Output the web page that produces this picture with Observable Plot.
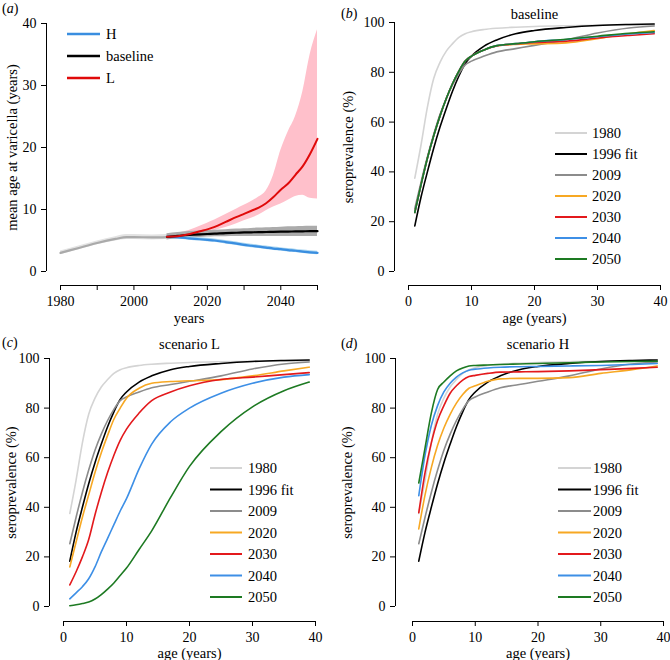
<!DOCTYPE html>
<html><head><meta charset="utf-8">
<script src="https://cdn.jsdelivr.net/npm/d3@7"></script>
<script src="https://cdn.jsdelivr.net/npm/@observablehq/plot@0.6"></script>
<style>
body{margin:0;background:#fff;}
#fig{position:relative;width:670px;height:660px;font-family:"Liberation Serif",serif;}
#fig > div{position:absolute;}
</style></head><body><div id="fig"></div>
<script>
// ---------- Panel (a): mean age at varicella ----------
const histYears = [1980, 1985, 1990, 1995, 1998, 2000, 2005, 2009];
const histMean  = [3.0, 3.8, 4.6, 5.25, 5.55, 5.55, 5.5, 5.55];
const histLo    = [2.7, 3.5, 4.3, 4.9, 5.15, 5.15, 5.1, 5.15];
const histHi    = [3.3, 4.1, 4.9, 5.6, 5.95, 5.95, 5.9, 5.95];

const projYears = [2009, 2012, 2015, 2018, 2020, 2022, 2025, 2028, 2030, 2032, 2034, 2036, 2038, 2040, 2042, 2044, 2046, 2048, 2050];
const baseMean = [5.6, 5.75, 5.9, 6.0, 6.05, 6.1, 6.2, 6.25, 6.3, 6.32, 6.35, 6.37, 6.4, 6.42, 6.44, 6.46, 6.48, 6.5, 6.5];
const baseLo   = [5.1, 5.3, 5.4, 5.5, 5.55, 5.6, 5.62, 5.64, 5.65, 5.65, 5.65, 5.65, 5.65, 5.66, 5.66, 5.66, 5.66, 5.66, 5.66];
const baseHi   = [6.1, 6.3, 6.45, 6.55, 6.6, 6.65, 6.75, 6.85, 6.9, 6.95, 7.0, 7.05, 7.1, 7.15, 7.2, 7.22, 7.25, 7.28, 7.3];
const hMean = [5.6, 5.5, 5.35, 5.2, 5.1, 5.0, 4.75, 4.5, 4.3, 4.15, 4.0, 3.85, 3.7, 3.6, 3.45, 3.35, 3.2, 3.1, 3.0];
const hLo   = [5.4, 5.25, 5.05, 4.9, 4.8, 4.7, 4.45, 4.2, 4.0, 3.85, 3.7, 3.55, 3.4, 3.3, 3.15, 3.05, 2.9, 2.8, 2.7];
const hHi   = [5.8, 5.7, 5.6, 5.45, 5.35, 5.25, 5.0, 4.75, 4.55, 4.4, 4.25, 4.1, 3.95, 3.85, 3.7, 3.6, 3.45, 3.35, 3.25];
const lMean = [5.6, 5.7, 6.0, 6.5, 6.8, 7.2, 8.0, 8.8, 9.3, 9.8, 10.3, 11.0, 12.0, 13.2, 14.2, 15.6, 17.0, 19.0, 21.4];
const lLo   = [5.5, 5.6, 5.8, 6.1, 6.3, 6.6, 7.1, 7.7, 8.2, 8.6, 9.1, 9.8, 10.4, 10.9, 11.5, 12.1, 12.3, 11.8, 11.7];
const lHi   = [5.9, 6.2, 6.6, 7.3, 7.8, 8.3, 9.2, 10.1, 10.7, 11.3, 12.0, 13.0, 15.5, 19.5, 22.5, 25.0, 29.0, 35.0, 39.0];

const aLegend = ["H", "baseline", "L"];
const aXTicks = [1980, 1990, 2000, 2010, 2020, 2030, 2040, 2050];
const aYTicks = [0, 10, 20, 30, 40];

// ---------- Panels (b)-(d): seroprevalence by age ----------
const ages = [1, 2, 3, 4, 5, 6, 7, 8, 9, 10, 12, 14, 17, 20, 25, 30, 35, 39];
const seriesNames = ["1980", "1996 fit", "2009", "2020", "2030", "2040", "2050"];
const s1980 = [37.5, 51, 66, 77.5, 84, 88.5, 91.5, 94, 95.5, 96.3, 97.2, 97.7, 98.1, 98.4, 98.7, 98.9, 99, 99];
const s1996 = [18.3, 30, 40, 49.5, 58, 65.5, 72.5, 78.5, 83.5, 86.5, 90.5, 93, 95.5, 96.8, 98, 98.8, 99.2, 99.4];
const s2009 = [25.3, 36, 46, 55, 63, 69.5, 75, 79.5, 83, 84.5, 86.5, 88.2, 89.5, 90.8, 93, 95.8, 97.8, 98.6];

const base2020 = [23.7, 35, 45.5, 54.5, 62.5, 69.5, 75.5, 80.5, 84.5, 86.5, 89, 90.6, 91.2, 91.4, 91.8, 93.5, 95.5, 96.8];
const base2030 = [23.7, 35, 45.5, 54.5, 62.5, 69.5, 75.5, 80.5, 84.5, 86.5, 89, 90.6, 91.4, 92, 92.5, 93.8, 94.8, 95.5];
const base2040 = [23.7, 35, 45.5, 54.5, 62.5, 69.5, 75.5, 80.5, 84.5, 86.5, 89, 90.7, 91.5, 92.3, 93.2, 94.3, 95.4, 96];
const base2050 = [23.7, 35, 45.5, 54.5, 62.5, 69.5, 75.5, 80.5, 84.5, 86.5, 89, 90.7, 91.5, 92.3, 93.3, 94.5, 95.7, 96.3];

const L2020 = [15.9, 26, 36, 45, 54, 62, 69, 75.5, 80, 84, 88, 90, 90.7, 91, 91.5, 93, 95, 96.5];
const L2030 = [8.7, 14, 20, 27, 37, 46, 54, 61, 67, 71.5, 78, 83, 86.5, 89, 91.5, 92.5, 93.5, 94.3];
const L2040 = [3.1, 5.5, 8, 11.2, 16, 22, 27.5, 33, 38.5, 43.5, 55.5, 65.5, 74.5, 80, 86, 90, 92.5, 93.5];
const L2050 = [0.3, 0.7, 1.2, 1.8, 3, 4.8, 7, 9.5, 12.5, 15.5, 23, 30.5, 44, 56.5, 70.5, 80.5, 87, 90.5];

const H2020 = [31.3, 45, 56, 65, 72, 77.5, 82, 85.5, 88, 89, 90.8, 91.8, 92, 92, 92.3, 94, 95.5, 97];
const H2030 = [37.8, 54, 66, 75, 81, 86, 89, 91.3, 92.7, 93.2, 94, 94.5, 94.6, 94.7, 95, 95.5, 96, 96.5];
const H2040 = [44.7, 61, 73, 81, 86.5, 90, 92.5, 94.2, 95.3, 95.7, 96.2, 96.5, 96.7, 96.8, 97, 97.2, 97.6, 98];
const H2050 = [49.8, 64, 78, 87.5, 90.5, 93, 95, 96.2, 97, 97.2, 97.4, 97.6, 97.8, 98, 98.3, 98.6, 98.8, 98.9];

const sXTicks = [0, 10, 20, 30, 40];
const sYTicks = [0, 20, 40, 60, 80, 100];

// ---------- styles ----------
const FONT = "Liberation Serif";
const serColors = ["#d4d4d4", "#000000", "#8c8c8c", "#f7a823", "#e3191c", "#3d8fe6", "#1d7a22"];

function tableOf(xs, ys) { return xs.map((x, i) => ({x, y: ys[i]})); }
function bandOf(xs, lo, hi) { return xs.map((x, i) => ({x, lo: lo[i], hi: hi[i]})); }

function addPanel(left, top, plot) {
  const d = document.createElement("div");
  d.style.left = left + "px"; d.style.top = top + "px";
  d.appendChild(plot);
  document.getElementById("fig").appendChild(d);
  return d3.select(plot.tagName.toLowerCase() === "svg" ? plot : plot.querySelector("svg"));
}

function addTag(svg, letter, x, y) {
  const t = svg.append("text").attr("x", x).attr("y", y).attr("text-anchor", "start")
    .attr("font-family", FONT).attr("font-size", 14).attr("fill", "#000");
  t.append("tspan").text("(");
  t.append("tspan").attr("font-style", "italic").text(letter);
  t.append("tspan").text(")");
}

function addLegend(svg, names, colors, x0, x1, tx, y0, dy, sw) {
  names.forEach((n, i) => {
    const y = y0 + i * dy;
    svg.append("line").attr("x1", x0).attr("x2", x1).attr("y1", y).attr("y2", y)
      .attr("stroke", colors[i]).attr("stroke-width", sw);
    svg.append("text").attr("x", tx).attr("y", y).attr("dy", "0.35em").attr("text-anchor", "start")
      .attr("font-family", FONT).attr("font-size", 14.5).attr("fill", "#000").text(n);
  });
}

const common = {width: 335, height: 330, style: {fontFamily: FONT, fontSize: "14px", background: "transparent", overflow: "visible", color: "#000"}};

// ---------- (a) ----------
{
  const mL = 46, mB = 45, mT = 23, mR = 18, ins = 14;
  const p = Plot.plot({
    ...common,
    marginLeft: mL, marginBottom: mB, marginTop: mT, marginRight: mR,
    x: {domain: [1980, 2050], insetLeft: ins},
    y: {domain: [0, 40], insetBottom: ins},
    marks: [
      Plot.areaY(bandOf(histYears, histLo, histHi), {x: "x", y1: "lo", y2: "hi", fill: "#e3e3e3", curve: "monotone-x"}),
      Plot.areaY(bandOf(projYears, lLo, lHi), {x: "x", y1: "lo", y2: "hi", fill: "#ffc0cb", curve: "monotone-x"}),
      Plot.areaY(bandOf(projYears, baseLo, baseHi), {x: "x", y1: "lo", y2: "hi", fill: "#ababab", curve: "monotone-x"}),
      Plot.areaY(bandOf(projYears, hLo, hHi), {x: "x", y1: "lo", y2: "hi", fill: "#a9d5f0", curve: "monotone-x"}),
      Plot.line(tableOf(histYears, histMean), {x: "x", y: "y", stroke: "#aaaaaa", strokeWidth: 2.2, curve: "monotone-x"}),
      Plot.line(tableOf(projYears, hMean), {x: "x", y: "y", stroke: "#3a8ee0", strokeWidth: 2.2, curve: "monotone-x"}),
      Plot.line(tableOf(projYears, baseMean), {x: "x", y: "y", stroke: "#000", strokeWidth: 2.2, curve: "monotone-x"}),
      Plot.line(tableOf(projYears, lMean), {x: "x", y: "y", stroke: "#e00a0a", strokeWidth: 2, curve: "monotone-x"}),
      Plot.ruleX([1980], {y1: 0, y2: 40, dx: -ins, stroke: "#000"}),
      Plot.ruleY([0], {x1: 1980, x2: 2050, dy: ins, stroke: "#000"}),
      Plot.axisY({ticks: aYTicks, tickSize: 5, tickPadding: 5, label: null}),
      Plot.axisX({ticks: aXTicks, tickSize: 5, tickPadding: 6, label: null, tickFormat: d => d % 20 === 0 ? String(d) : ""}),
      Plot.text(["years"], {x: 2015, frameAnchor: "bottom", dy: 33, lineAnchor: "middle", fontSize: 14.5}),
      Plot.text(["mean age at varicella (years)"], {y: 20, frameAnchor: "left", textAnchor: "middle", lineAnchor: "middle", dx: 12 - mL, rotate: -90, fontSize: 14.5})
    ]
  });
  const svg = addPanel(0, 0, p);
  addTag(svg, "a", 2, 13);
  addLegend(svg, aLegend, ["#3a8ee0", "#000", "#e00a0a"], 67, 100, 106, 34, 22, 2.5);
}

function seroPanel(left, top, cfg, series, tag, title) {
  const {mL, mB, mT, mR, insL, insB, legX0, legX1, legTX, legY0, legDY, titleDY, xTitleDY, yTitleX, tagX, tagY} = cfg;
  const marks = [];
  series.forEach((vals, i) => {
    marks.push(Plot.line(tableOf(ages, vals), {x: "x", y: "y", stroke: serColors[i], strokeWidth: 1.6, curve: "monotone-x"}));
  });
  marks.push(
    Plot.ruleX([0], {y1: 0, y2: 100, dx: -insL, stroke: "#000"}),
    Plot.ruleY([0], {x1: 0, x2: 40, dy: insB, stroke: "#000"}),
    Plot.axisY({ticks: sYTicks, tickSize: 5, tickPadding: 5, label: null}),
    Plot.axisX({ticks: sXTicks, tickSize: 5, tickPadding: 6, label: null}),
    Plot.text([title], {x: 20, frameAnchor: "top", dy: titleDY, lineAnchor: "bottom", fontSize: 14.5}),
    Plot.text(["age (years)"], {x: 20, frameAnchor: "bottom", dy: xTitleDY, lineAnchor: "middle", fontSize: 14.5}),
    Plot.text(["seroprevalence (%)"], {y: 50, frameAnchor: "left", textAnchor: "middle", lineAnchor: "middle", dx: yTitleX - mL, rotate: -90, fontSize: 14.5})
  );
  const p = Plot.plot({
    ...common,
    marginLeft: mL, marginBottom: mB, marginTop: mT, marginRight: mR,
    x: {domain: [0, 40], insetLeft: insL},
    y: {domain: [0, 100], insetBottom: insB},
    marks
  });
  const svg = addPanel(left, top, p);
  addTag(svg, tag, tagX, tagY);
  addLegend(svg, seriesNames, serColors, legX0, legX1, legTX, legY0, legDY, 2);
}

// ---------- (b) ----------
seroPanel(335, 0, {mL: 59, mB: 45, mT: 22, mR: 10, insL: 14, insB: 14,
  legX0: 220, legX1: 252, legTX: 257, legY0: 133, legDY: 21, titleDY: -4, xTitleDY: 33, yTitleX: 13, tagX: 6, tagY: 18},
  [s1980, s1996, s2009, base2020, base2030, base2040, base2050], "b", "baseline");

// ---------- (c) ----------
seroPanel(0, 330, {mL: 49, mB: 39, mT: 28, mR: 20, insL: 14, insB: 15,
  legX0: 210, legX1: 242, legTX: 248, legY0: 138, legDY: 21.5, titleDY: -10, xTitleDY: 32, yTitleX: 11, tagX: 2, tagY: 17},
  [s1980, s1996, s2009, L2020, L2030, L2040, L2050], "c", "scenario L");

// ---------- (d) ----------
seroPanel(335, 330, {mL: 60, mB: 39, mT: 28, mR: 7, insL: 17, insB: 15,
  legX0: 223, legX1: 256, legTX: 258, legY0: 138, legDY: 21.5, titleDY: -10, xTitleDY: 32, yTitleX: 12, tagX: 6, tagY: 18},
  [s1980, s1996, s2009, H2020, H2030, H2040, H2050], "d", "scenario H");
</script></body></html>
